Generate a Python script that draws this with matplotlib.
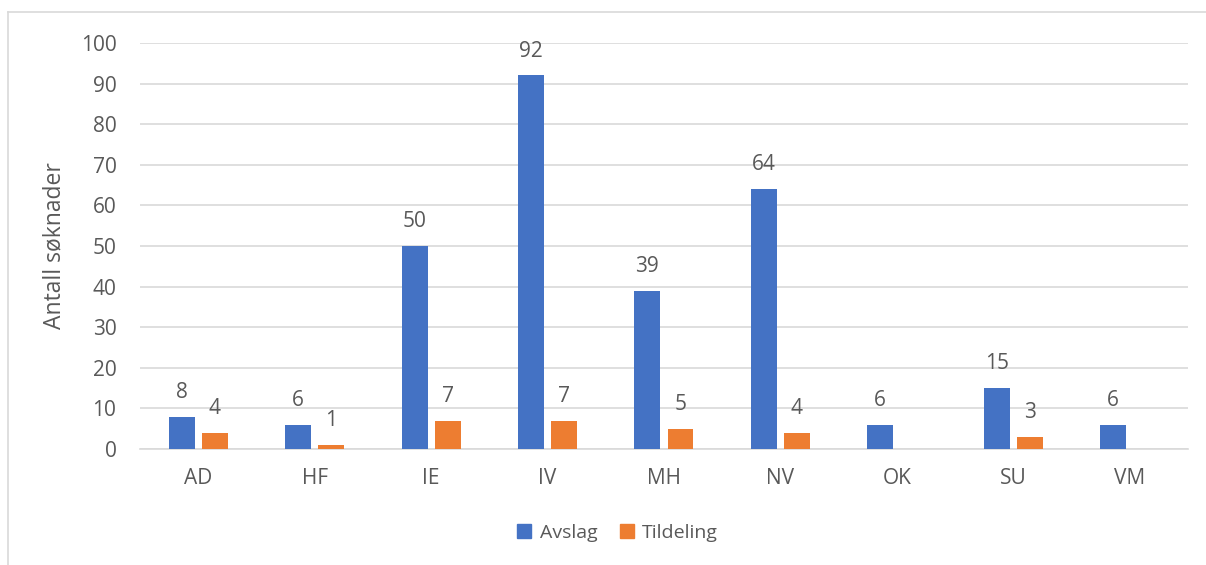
import numpy as np
import matplotlib.pyplot as plt
from matplotlib.lines import Line2D

categories = ["AD", "HF", "IE", "IV", "MH", "NV", "OK", "SU", "VM"]
avslag = [8, 6, 50, 92, 39, 64, 6, 15, 6]
tildeling = [4, 1, 7, 7, 5, 4, 0, 3, 0]

blue = "#4472C4"
orange = "#ED7D31"
txt = "#595959"
plt.rcParams["font.family"] = ["Open Sans", "DejaVu Sans"]

fig = plt.figure(figsize=(12.06, 5.65), dpi=100)
ax = fig.add_axes([0.1161, 0.2053, 0.8689, 0.7186])

x = np.arange(len(categories))
w = 0.223
off = 0.142
b1 = ax.bar(x - off, avslag, w, color=blue, zorder=3)
b2 = ax.bar(x + off, tildeling, w, color=orange, zorder=3)

ax.bar_label(b1, labels=[str(v) for v in avslag], padding=10, fontsize=15, color=txt)
ax.bar_label(b2, labels=[str(v) if v else "" for v in tildeling], padding=10, fontsize=15, color=txt)

ax.set_xlim(-0.5, len(categories) - 0.5)
ax.set_ylim(0, 100)
ax.set_yticks(range(0, 101, 10))
ax.yaxis.grid(True, color="#d9d9d9", linewidth=1.2, zorder=0)
ax.set_xticks(x)
ax.set_xticklabels(categories)
ax.tick_params(axis="both", length=0, labelsize=15, colors=txt)
ax.tick_params(axis="x", pad=14)
ax.tick_params(axis="y", pad=17)
for s in ["top", "right", "left"]:
    ax.spines[s].set_visible(False)
ax.spines["bottom"].set_color("#d9d9d9")
ax.spines["bottom"].set_linewidth(1.2)
ax.set_ylabel("Antall søknader", fontsize=16.5, color=txt, labelpad=10)

handles = [Line2D([], [], marker="s", linestyle="", markersize=10, color=blue),
           Line2D([], [], marker="s", linestyle="", markersize=10, color=orange)]
fig.legend(handles, ["Avslag", "Tildeling"], loc="center", bbox_to_anchor=(0.511, 0.057),
           ncol=2, frameon=False, fontsize=14, labelcolor=txt, handlelength=1.0,
           handletextpad=0.3, columnspacing=1.0)

# chart frame (only top and left edges visible in the crop)
fig.add_artist(Line2D([8 / 1206, 8 / 1206], [0, 1 - 12 / 565], color="#d9d9d9", linewidth=1.2))
fig.add_artist(Line2D([8 / 1206, 1], [1 - 12 / 565, 1 - 12 / 565], color="#d9d9d9", linewidth=1.2))

fig.savefig("out.png", dpi=100, facecolor="white")
